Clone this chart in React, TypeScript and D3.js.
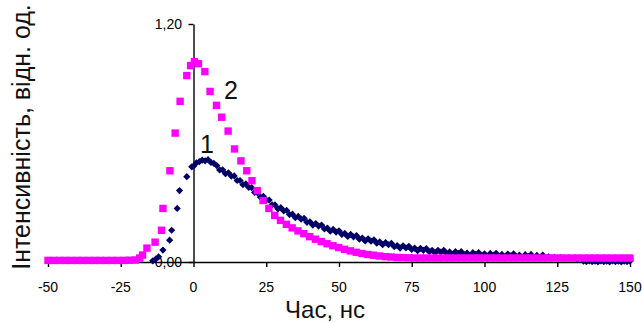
import { useEffect, useRef } from 'react'
import * as d3 from 'd3'

// series 1 (navy diamonds): [time ns, intensity]
const series1: [number, number][] = [
  [-14, 0.006], [-13, 0.014], [-12, 0.026], [-10.5, 0.06], [-8.2, 0.11], [-7.5, 0.16],
  [-5.6, 0.27], [-4.8, 0.36], [-2.3, 0.43], [-0.6, 0.48],
  [0, 0.483], [1, 0.5], [2, 0.506], [3, 0.514], [4, 0.51], [5, 0.516], [6, 0.502], [7, 0.497],
  [8, 0.486], [9, 0.464], [10, 0.465], [11, 0.445], [12, 0.45], [13, 0.433],
  [14, 0.434], [15, 0.411], [16, 0.411], [17, 0.39], [18, 0.394], [19, 0.376],
  [20, 0.375], [21, 0.351], [22, 0.349], [23, 0.327], [24, 0.331], [25, 0.312],
  [26, 0.312], [27, 0.288], [28, 0.288], [29, 0.268], [30, 0.274], [31, 0.258],
  [32, 0.26], [33, 0.239], [34, 0.241], [35, 0.223], [36, 0.23], [37, 0.216],
  [38, 0.22], [39, 0.2], [40, 0.203], [41, 0.186], [42, 0.194], [43, 0.181],
  [44, 0.186], [45, 0.167], [46, 0.171], [47, 0.155], [48, 0.164], [49, 0.151],
  [50, 0.157], [51, 0.139], [52, 0.144], [53, 0.129], [54, 0.139], [55, 0.127],
  [56, 0.133], [57, 0.115], [58, 0.121], [59, 0.106], [60, 0.117], [61, 0.105],
  [62, 0.112], [63, 0.095], [64, 0.101], [65, 0.087], [66, 0.098], [67, 0.087],
  [68, 0.094], [69, 0.077], [70, 0.083], [71, 0.07], [72, 0.082], [73, 0.071],
  [74, 0.079], [75, 0.063], [76, 0.07], [77, 0.057], [78, 0.069], [79, 0.059],
  [80, 0.068], [81, 0.052], [82, 0.059], [83, 0.047], [84, 0.059], [85, 0.05],
  [86, 0.059], [87, 0.043], [88, 0.051], [89, 0.039], [90, 0.052], [91, 0.043],
  [92, 0.052], [93, 0.037], [94, 0.045], [95, 0.033], [96, 0.047], [97, 0.038],
  [98, 0.047], [99, 0.033], [100, 0.041], [101, 0.029], [102, 0.043], [103, 0.034],
  [104, 0.044], [105, 0.029], [106, 0.038], [107, 0.026], [108, 0.04], [109, 0.031],
  [110, 0.041], [111, 0.026], [112, 0.035], [113, 0.023], [114, 0.037], [115, 0.029],
  [116, 0.038], [117, 0.024], [118, 0.033], [119, 0.021], [120, 0.035],
  [122, 0.026], [124, 0.024], [126, 0.022], [128, 0.02], [130, 0.018], [132, 0.012],
  [134, 0.004], [135, 0.002], [136, 0.005], [137, 0.002], [138, 0.004], [139, 0.001],
  [140, 0.005], [141, 0.002], [142, 0.004], [143, 0.001], [144, 0.005], [145, 0.002],
  [146, 0.004], [147, 0.001], [148, 0.004], [149, 0.002], [150, 0.004]
]

// series 2 (magenta squares)
const series2: [number, number][] = [
  [-50, 0.008], [-48, 0.008], [-46, 0.008], [-44, 0.008], [-42, 0.008], [-40, 0.008],
  [-38, 0.008], [-36, 0.008], [-34, 0.008], [-32, 0.008], [-30, 0.008], [-28, 0.008],
  [-26, 0.008], [-24, 0.008], [-22, 0.009], [-20, 0.01], [-18.5, 0.02], [-17.5, 0.035],
  [-16, 0.07], [-13.2, 0.1], [-11, 0.16], [-10.5, 0.27], [-8.1, 0.46], [-6.3, 0.65],
  [-4.6, 0.81], [-2.3, 0.94], [-1, 0.99], [0.3, 1.01], [1.7, 1.0], [3.9, 0.96],
  [5.7, 0.86], [7.9, 0.79], [9.7, 0.73], [11.9, 0.66], [14.1, 0.57], [16.3, 0.51],
  [18.3, 0.46], [20.1, 0.41], [21.9, 0.36], [23.9, 0.31], [25.9, 0.27], [27.9, 0.235],
  [29.9, 0.21], [31.9, 0.19], [33.9, 0.172], [35.9, 0.157], [37.9, 0.143], [39.9, 0.128],
  [41.9, 0.115], [43.9, 0.103], [45.9, 0.092], [47.9, 0.082], [49.9, 0.073], [51.9, 0.064],
  [53.9, 0.056], [55.9, 0.049], [57.9, 0.043], [59.9, 0.038], [61.9, 0.034], [63.9, 0.03],
  [65.9, 0.027], [67.9, 0.025], [69.9, 0.023], [72, 0.022], [74, 0.021], [76, 0.02],
  [78, 0.02], [80, 0.02], [82, 0.02], [84, 0.02], [86, 0.02], [88, 0.02], [90, 0.02],
  [92, 0.02], [94, 0.02], [96, 0.02], [98, 0.02], [100, 0.02], [102, 0.02], [104, 0.02],
  [106, 0.02], [108, 0.02], [110, 0.02], [112, 0.02], [114, 0.02], [116, 0.02], [118, 0.02],
  [120, 0.02], [122, 0.02], [124, 0.02], [126, 0.02], [128, 0.02], [130, 0.02], [132, 0.02],
  [134, 0.02], [136, 0.02], [138, 0.02], [140, 0.02], [142, 0.02], [144, 0.02], [146, 0.02],
  [148, 0.02], [150, 0.02]
]

const xTicks = [-50, -25, 0, 25, 50, 75, 100, 125, 150]
const yTicks = [0, 1.2]

const App = () => {
  const svgRef = useRef<SVGSVGElement>(null)

  useEffect(() => {
    if (!svgRef.current) return
    const svg = d3.select(svgRef.current)
    svg.selectAll('*').remove()

    const x = d3.scaleLinear().domain([-50, 150]).range([48, 630])
    const y = d3.scaleLinear().domain([0, 1.2]).range([262, 24])
    const font = 'Arial, "Liberation Sans", sans-serif'

    svg.append('rect').attr('width', 642).attr('height', 323).attr('fill', '#fff')

    // x axis (crosses at y = 0)
    const xAxis = svg
      .append('g')
      .attr('transform', `translate(0,${y(0)})`)
      .call(d3.axisBottom(x).tickValues(xTicks).tickSize(5).tickSizeOuter(0).tickFormat(() => ''))
    xAxis.selectAll('line, path').attr('stroke', '#000').attr('stroke-width', 1.4)

    xTicks.forEach(t => {
      svg
        .append('text')
        .attr('x', x(t))
        .attr('y', 292)
        .attr('text-anchor', 'middle')
        .style('font-family', font)
        .style('font-size', '14px')
        .style('fill', '#000')
        .text(String(t))
    })

    // y axis (crosses at x = 0)
    const yAxis = svg
      .append('g')
      .attr('transform', `translate(${x(0)},0)`)
      .call(d3.axisLeft(y).tickValues(yTicks).tickSize(5).tickSizeOuter(0).tickFormat(() => ''))
    yAxis.selectAll('line, path').attr('stroke', '#000').attr('stroke-width', 1.4)

    yTicks.forEach(t => {
      svg
        .append('text')
        .attr('x', 182)
        .attr('y', y(t) + 5)
        .attr('text-anchor', 'end')
        .style('font-family', font)
        .style('font-size', '14px')
        .style('fill', '#000')
        .text(t.toFixed(2).replace('.', ','))
    })

    // series 1 - navy diamonds
    const r = 3.6
    svg
      .append('g')
      .selectAll('path')
      .data(series1)
      .join('path')
      .attr('d', `M0,${-r}L${r},0L0,${r}L${-r},0Z`)
      .attr('transform', d => `translate(${x(d[0])},${y(d[1])})`)
      .attr('fill', '#000066')

    // series 2 - magenta squares
    const s = 7.4
    svg
      .append('g')
      .selectAll('rect')
      .data(series2)
      .join('rect')
      .attr('x', d => x(d[0]) - s / 2)
      .attr('y', d => y(d[1]) - s / 2)
      .attr('width', s)
      .attr('height', s)
      .attr('fill', '#ff00ff')

    // curve labels
    const labels: [string, number, number][] = [['1', 207, 153], ['2', 231, 99]]
    labels.forEach(([t, lx, ly]) => {
      svg
        .append('text')
        .attr('x', lx)
        .attr('y', ly)
        .attr('text-anchor', 'middle')
        .style('font-family', font)
        .style('font-size', '25px')
        .style('fill', '#111')
        .text(t)
    })

    // axis titles
    svg
      .append('text')
      .attr('x', 325)
      .attr('y', 318)
      .attr('text-anchor', 'middle')
      .style('font-family', font)
      .style('font-size', '24px')
      .style('fill', '#111')
      .text('Час, нс')

    svg
      .append('text')
      .attr('transform', 'translate(30,137) rotate(-90)')
      .attr('text-anchor', 'middle')
      .style('font-family', font)
      .style('font-size', '25px')
      .style('fill', '#111')
      .text('Інтенсивність, відн. од.')
  }, [])

  return (
    <svg
      ref={svgRef}
      width={642}
      height={323}
      style={{ position: 'absolute', left: 0, top: 0, display: 'block' }}
    />
  )
}

export default App
